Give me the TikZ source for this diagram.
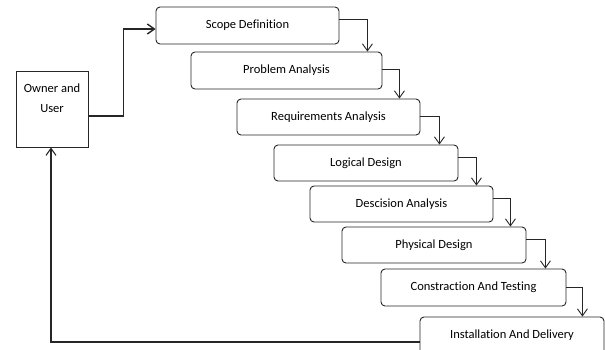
\documentclass[tikz,border=0pt]{standalone}
\usepackage{fontspec}
\setmainfont[Ligatures=NoCommon]{Carlito}
\usetikzlibrary{arrows.meta}
\begin{document}
\begin{tikzpicture}[x=1pt,y=-1pt,
  stage/.style={draw=black!85, line width=0.9pt, rounded corners=4pt,
    minimum height=37pt, inner sep=0pt, font=\fontsize{12.5}{15}\selectfont},
  flow/.style={draw=black!85, line width=0.9pt,
    -{Straight Barb[length=7pt,width=10pt]}},
  back/.style={draw=black!85, line width=1.4pt,
    -{Straight Barb[length=7pt,width=10pt]}}]
\useasboundingbox (0,0) rectangle (605,349);
\clip (0,0) rectangle (605,349);

% owner box
\node[draw=black!85, line width=0.9pt, minimum width=72pt, minimum height=76pt,
  inner sep=0pt] (own) at (52,109) {};
\node[align=center, font=\fontsize{12.5}{20}\selectfont] (ownt) at (52,98) {Owner and\\User};

% development stages
\node[stage, minimum width=183pt] (s1) at (247.5,25.5) {Scope Definition};
\node[stage, minimum width=191pt] (s2) at (286.5,70.5) {Problem Analysis};
\node[stage, minimum width=183pt, minimum height=36pt] (s3) at (328.5,117) {Requirements Analysis};
\node[stage, minimum width=184pt, minimum height=36pt] (s4) at (366,163) {Logical Design};
\node[stage, minimum width=183pt, minimum height=36pt] (s5) at (401.5,204) {Descision Analysis};
\node[stage, minimum width=184pt, minimum height=36pt] (s6) at (434,245) {Physical Design};
\node[stage, minimum width=185pt] (s7) at (473.5,287.5) {Constraction And Testing};
\node[stage, minimum width=184pt] (s8) at (512,335.5) {Installation And Delivery};

% stage to stage
\draw[flow] ([yshift=6.5pt]s1.east) -| ([xshift=28pt]s1.east |- s2.north);
\draw[flow] ([yshift=1.5pt]s2.east) -| ([xshift=17pt]s2.east |- s3.north);
\draw[flow] ([yshift=1pt]s3.east) -| ([xshift=19pt]s3.east |- s4.north);
\draw[flow] ([yshift=6pt]s4.east) -| ([xshift=18pt]s4.east |- s5.north);
\draw[flow] ([yshift=6pt]s5.east) -| ([xshift=17pt]s5.east |- s6.north);
\draw[flow] ([yshift=6pt]s6.east) -| ([xshift=19pt]s6.east |- s7.north);
\draw[flow] (s7.east) -| ([xshift=16pt]s7.east |- s8.north);

% owner links
\draw[back] ([yshift=-7pt]own.east) -- ++(35,0) |- ([yshift=-3.5pt]s1.west);
\draw[back, line width=1.1pt] ([yshift=-6.5pt]s8.west) -| ([xshift=-1pt]own.south);
\end{tikzpicture}
\end{document}
